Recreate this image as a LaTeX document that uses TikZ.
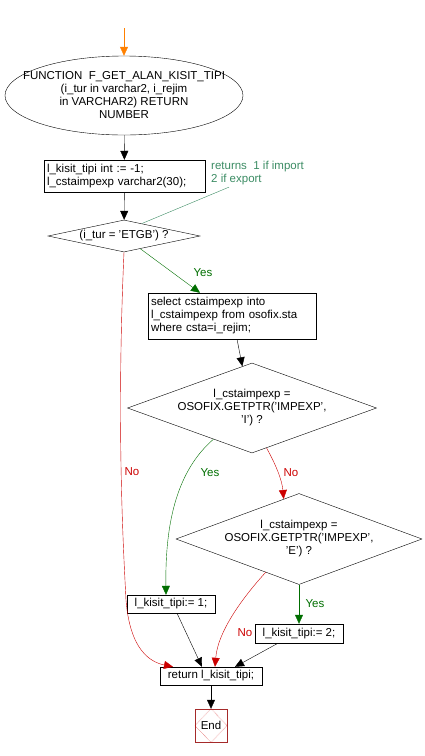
\documentclass[tikz,border=0pt]{standalone}
\usepackage{fontspec}
\setmainfont{Liberation Sans}
\usetikzlibrary{shapes.geometric,arrows.meta}
\definecolor{yesgreen}{RGB}{0,110,0}
\definecolor{nored}{RGB}{204,0,0}
\definecolor{notegreen}{RGB}{60,140,100}
\definecolor{endbrown}{RGB}{165,42,42}
\begin{document}
\begin{tikzpicture}[x=1pt,y=1pt,
    font=\fontsize{11.5}{13}\selectfont,
    tip/.style={-{Triangle[length=9pt,width=8pt]}},
    stmt/.style={draw,rectangle,inner sep=3pt,align=left},
    test/.style={draw,diamond,inner sep=0pt},
    yes/.style={tip,color=yesgreen},
    no/.style={tip,color=nored}
]
\useasboundingbox (0,0) rectangle (425,-756);

\coordinate (start) at (124,-28);
\node[draw,ellipse,minimum width=238pt,minimum height=79pt,inner sep=0pt,
    label={[align=center]center:FUNCTION\ \ F\_GET\_ALAN\_KISIT\_TIPI\\(i\_tur in varchar2, i\_rejim\\in VARCHAR2) RETURN\\NUMBER}] (func) at (124,-95.5) {};
\node[stmt,text width=155pt,minimum height=32pt] (decl) at (124.5,-176)
    {l\_kisit\_tipi int := -1;\\l\_cstaimpexp varchar2(30);};
\node[anchor=north west,align=left,text=notegreen,inner sep=0pt] (note) at (211,-161)
    {returns\ \ 1 if import\\2 if export};
\node[test,minimum width=152pt,minimum height=32pt,label=center:{(i\_tur = 'ETGB') ?}] (etgb) at (124,-236) {};
\node[stmt,text width=162pt,minimum height=46pt] (sel) at (232,-316)
    {select cstaimpexp into\\l\_cstaimpexp from osofix.sta\\where csta=i\_rejim;};
\node[test,minimum width=249pt,minimum height=90pt,
    label={[align=center]center:l\_cstaimpexp =\\OSOFIX.GETPTR('IMPEXP',\\'I') ?}] (impexpI) at (252,-408) {};
\node[test,minimum width=246pt,minimum height=91pt,
    label={[align=center]center:l\_cstaimpexp =\\OSOFIX.GETPTR('IMPEXP',\\'E') ?}] (impexpE) at (299,-539) {};
\node[stmt,minimum width=88pt,minimum height=18pt,inner sep=0pt] (kisit1) at (171,-604) {l\_kisit\_tipi:= 1;};
\node[stmt,minimum width=88pt,minimum height=19pt,inner sep=0pt] (kisit2) at (299,-633.5) {l\_kisit\_tipi:= 2;};
\node[stmt,minimum width=102pt,minimum height=18pt,inner sep=0pt] (ret) at (211,-676) {return l\_kisit\_tipi;};
\node[draw=endbrown,minimum width=32pt,minimum height=33pt,inner sep=0pt] (end) at (211,-725.5) {End};
\draw[nored,densely dotted] (end.north) -- (end.east) -- (end.south) -- (end.west) -- cycle;

% branch labels
\node[text=yesgreen] (lyes1) at (203,-273) {Yes};
\node[text=nored] (lno1) at (132,-472) {No};
\node[text=yesgreen] (lyes2) at (210,-473) {Yes};
\node[text=nored] (lno2) at (291,-473) {No};
\node[text=yesgreen] (lyes3) at (315,-604) {Yes};
\node[text=nored] (lno3) at (245,-633) {No};

\draw[tip,color=orange] (start) -- (func);
\draw[tip] (func) -- (decl);
\draw[tip] (decl) -- (etgb);
\draw[notegreen] (etgb.35) -- ([xshift=18pt,yshift=-2pt]note.south west);
\draw[yes] (etgb.-38) -- ([xshift=-32pt]sel.north);
\draw[no] (etgb.south) .. controls (116,-430) and (124,-560) .. (126,-600)
    .. controls (130,-650) and (150,-662) .. ([xshift=-38pt]ret.north);
\draw[tip] ([xshift=5pt]sel.south) -- (impexpI.103);
\draw[yes] (impexpI.219) .. controls (178,-470) and (165,-520) .. ([xshift=-5pt]kisit1.north);
\draw[no] (impexpI.290) .. controls (276,-465) and (282,-480) .. (impexpE.111);
\draw[yes] (impexpE.south) -- (kisit2.north);
\draw[no] (impexpE.225) .. controls (245,-595) and (218,-630) .. ([xshift=4pt]ret.north);
\draw[tip] ([xshift=6pt]kisit1.south) -- ([xshift=-9pt]ret.north);
\draw[tip] ([xshift=-21pt]kisit2.south) -- ([xshift=24pt]ret.north);
\draw[tip] (ret) -- (end);
\end{tikzpicture}
\end{document}
